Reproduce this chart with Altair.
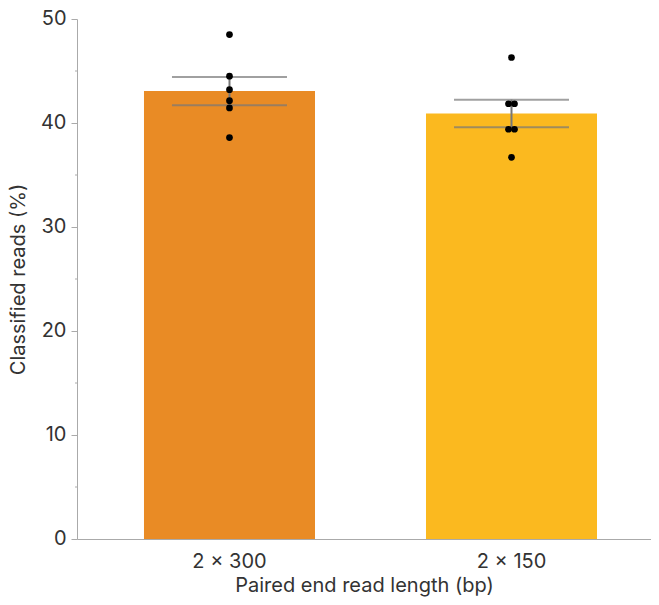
import altair as alt
import pandas as pd

groups = ["2 × 300", "2 × 150"]
colors = ["#E98B25", "#FBB91F"]
reads_300 = [48.5, 44.5, 43.2, 42.15, 41.45, 38.6]
reads_150 = [46.3, 41.85, 41.85, 39.4, 39.4, 36.7]
jitter_300 = [0, 0, 0, 0, 0, 0]
jitter_150 = [0, -1, 1, -1, 1, 0]
y_major = [0, 10, 20, 30, 40, 50]
y_minor = [5, 15, 25, 35, 45]

points = pd.DataFrame({
    "group": [groups[0]] * len(reads_300) + [groups[1]] * len(reads_150),
    "reads": reads_300 + reads_150,
    "jitter": jitter_300 + jitter_150,
})
minor = pd.DataFrame({"v": y_minor})

FONT = "Inter"
TXT = "#333333"
AX = "#AAAAAA"
FS = 20
W, H = 574, 520
BW = 171

x_enc = alt.X(
    "group:N", sort=groups,
    scale=alt.Scale(paddingInner=0.3936, paddingOuter=0.2145, align=0.5537),
    axis=alt.Axis(labelAngle=0, ticks=False, domainColor=AX, domainWidth=1,
                  labelFontSize=FS, labelColor=TXT, labelPadding=12,
                  titleFontSize=FS, titleColor=TXT, titleFontWeight="normal",
                  titlePadding=4),
    title="Paired end read length (bp)",
)
y_scale = alt.Scale(domain=[0, 50], nice=False, zero=True)
y_axis = alt.Axis(values=y_major, tickSize=6, tickColor=AX, domainColor=AX,
                  grid=False, labelFontSize=FS, labelColor=TXT, labelPadding=5,
                  labelOffset=-1,
                  titleFontSize=FS, titleColor=TXT, titleFontWeight="normal",
                  titlePadding=12)

base = alt.Chart(points)
agg = base.transform_aggregate(
    mean="mean(reads)", sem="stderr(reads)", groupby=["group"]
).transform_calculate(lo="datum.mean - datum.sem", hi="datum.mean + datum.sem")

bars = agg.mark_bar().encode(
    x=x_enc,
    y=alt.Y("mean:Q", scale=y_scale, axis=y_axis, title="Classified reads (%)"),
    color=alt.Color("group:N", scale=alt.Scale(domain=groups, range=colors), legend=None),
)
err = agg.mark_rule(color="#777777", strokeWidth=2).encode(
    x=x_enc, y=alt.Y("lo:Q", scale=y_scale), y2="hi:Q")
cap_hi = agg.mark_tick(orient="horizontal", size=115, thickness=2, color="#777777").encode(
    x=x_enc, y=alt.Y("hi:Q", scale=y_scale))
cap_lo = agg.mark_tick(orient="horizontal", size=115, thickness=2, color="#777777").encode(
    x=x_enc, y=alt.Y("lo:Q", scale=y_scale))
dots = base.mark_circle(size=45, color="black", opacity=1).encode(
    x=x_enc,
    xOffset=alt.XOffset("jitter:Q", scale=alt.Scale(domain=[-1, 1], range=[BW / 2 - 3, BW / 2 + 3])),
    y=alt.Y("reads:Q", scale=y_scale),
)
minor_ticks = alt.Chart(minor).mark_rule(color=AX, strokeWidth=1).encode(
    x=alt.value(-2), x2=alt.value(0), y=alt.Y("v:Q", scale=y_scale))

chart = alt.layer(bars, err, cap_hi, cap_lo, dots, minor_ticks).resolve_scale(
    xOffset="independent"
).properties(
    width=W, height=H,
    autosize=alt.AutoSizeParams(type="none"),
    padding={"left": 69, "top": 11, "right": 0, "bottom": 58},
).configure_view(stroke=None).configure_axis(labelFont=FONT, titleFont=FONT)

chart.save("out.html", embed_options={"renderer": "svg", "actions": False})
